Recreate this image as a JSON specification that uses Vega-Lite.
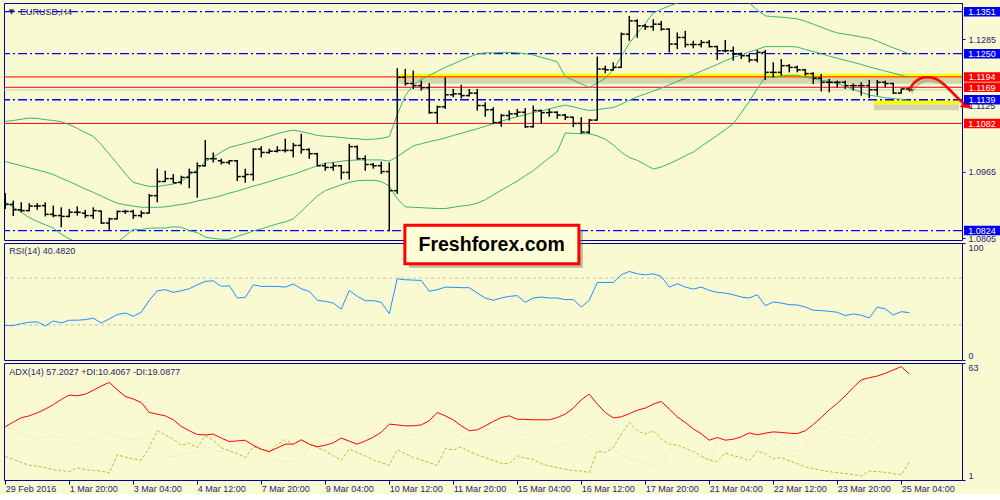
{
"$schema": "https://vega.github.io/schema/vega-lite/v6.json",
"background": "#FAFAD2",
"padding": {"left": 2, "top": 2, "right": 0, "bottom": 0},
"spacing": 3,
"bounds": "flush",
"config": {
  "view": {"stroke": "#0000A0", "strokeWidth": 1, "fill": "#FAFAD2"},
  "font": "Liberation Sans",
  "text": {"font": "Liberation Sans"},
  "axis": {"labelFont": "Liberation Sans", "labelFontSize": 9, "labelColor": "#1E1E78", "tickColor": "#0000A0", "domain": false, "grid": false}
},
"datasets": {
"bars": [
{"i":0,"o":1.0894,"h":1.0914,"l":1.0876,"c":1.0887,"bu":1.1087,"bm":1.0990,"bl":1.0893,"rsi":29.4,"adx":29.2,"pdi":13.4,"mdi":28.8},
{"i":1,"o":1.0887,"h":1.0896,"l":1.0859,"c":1.0874,"bu":1.1089,"bm":1.0985,"bl":1.0880,"rsi":29.4,"adx":31.7,"pdi":12.0,"mdi":27.4},
{"i":2,"o":1.0874,"h":1.0892,"l":1.0868,"c":1.0872,"bu":1.1092,"bm":1.0980,"bl":1.0868,"rsi":31.1,"adx":34.0,"pdi":10.2,"mdi":25.8},
{"i":3,"o":1.0872,"h":1.0890,"l":1.0870,"c":1.0883,"bu":1.1095,"bm":1.0975,"bl":1.0855,"rsi":32.3,"adx":35.0,"pdi":8.8,"mdi":24.0},
{"i":4,"o":1.0883,"h":1.0890,"l":1.0874,"c":1.0883,"bu":1.1094,"bm":1.0970,"bl":1.0846,"rsi":32.6,"adx":36.6,"pdi":8.3,"mdi":22.8},
{"i":5,"o":1.0884,"h":1.0892,"l":1.0858,"c":1.0863,"bu":1.1091,"bm":1.0965,"bl":1.0838,"rsi":29.1,"adx":38.6,"pdi":7.6,"mdi":23.8},
{"i":6,"o":1.0863,"h":1.0884,"l":1.0856,"c":1.0860,"bu":1.1089,"bm":1.0959,"bl":1.0830,"rsi":33.4,"adx":40.9,"pdi":6.5,"mdi":24.7},
{"i":7,"o":1.0860,"h":1.0880,"l":1.0832,"c":1.0858,"bu":1.1086,"bm":1.0950,"bl":1.0815,"rsi":31.7,"adx":43.7,"pdi":6.0,"mdi":23.5},
{"i":8,"o":1.0858,"h":1.0876,"l":1.0856,"c":1.0868,"bu":1.1079,"bm":1.0942,"bl":1.0804,"rsi":34.0,"adx":46.0,"pdi":5.4,"mdi":21.7},
{"i":9,"o":1.0868,"h":1.0882,"l":1.0860,"c":1.0868,"bu":1.1070,"bm":1.0933,"bl":1.0796,"rsi":34.0,"adx":45.6,"pdi":7.4,"mdi":19.4},
{"i":10,"o":1.0866,"h":1.0874,"l":1.0854,"c":1.0860,"bu":1.1060,"bm":1.0924,"bl":1.0789,"rsi":34.5,"adx":46.5,"pdi":6.5,"mdi":22.1},
{"i":11,"o":1.0860,"h":1.0880,"l":1.0852,"c":1.0872,"bu":1.1051,"bm":1.0916,"bl":1.0781,"rsi":35.7,"adx":48.5,"pdi":6.0,"mdi":23.0},
{"i":12,"o":1.0871,"h":1.0872,"l":1.0840,"c":1.0842,"bu":1.1031,"bm":1.0907,"bl":1.0783,"rsi":31.7,"adx":50.8,"pdi":5.8,"mdi":23.5},
{"i":13,"o":1.0842,"h":1.0855,"l":1.0824,"c":1.0852,"bu":1.1008,"bm":1.0898,"bl":1.0789,"rsi":35.1,"adx":52.7,"pdi":4.7,"mdi":26.2},
{"i":14,"o":1.0852,"h":1.0872,"l":1.0851,"c":1.0870,"bu":1.0985,"bm":1.0890,"bl":1.0795,"rsi":38.8,"adx":48.8,"pdi":14.3,"mdi":23.8},
{"i":15,"o":1.0870,"h":1.0874,"l":1.0864,"c":1.0870,"bu":1.0961,"bm":1.0886,"bl":1.0811,"rsi":40.2,"adx":45.3,"pdi":13.2,"mdi":22.3},
{"i":16,"o":1.0870,"h":1.0874,"l":1.0852,"c":1.0860,"bu":1.0940,"bm":1.0883,"bl":1.0827,"rsi":37.4,"adx":43.9,"pdi":12.2,"mdi":22.8},
{"i":17,"o":1.0860,"h":1.0872,"l":1.0855,"c":1.0866,"bu":1.0935,"bm":1.0880,"bl":1.0826,"rsi":40.8,"adx":42.1,"pdi":11.5,"mdi":23.2},
{"i":18,"o":1.0866,"h":1.0912,"l":1.0865,"c":1.0908,"bu":1.0930,"bm":1.0880,"bl":1.0830,"rsi":51.0,"adx":36.8,"pdi":18.2,"mdi":18.2},
{"i":19,"o":1.0908,"h":1.0973,"l":1.0892,"c":1.0942,"bu":1.0930,"bm":1.0880,"bl":1.0830,"rsi":59.2,"adx":35.9,"pdi":27.1,"mdi":15.5},
{"i":20,"o":1.0942,"h":1.0968,"l":1.0941,"c":1.0949,"bu":1.0933,"bm":1.0881,"bl":1.0830,"rsi":60.1,"adx":35.0,"pdi":24.9,"mdi":13.4},
{"i":21,"o":1.0949,"h":1.0960,"l":1.0938,"c":1.0939,"bu":1.0936,"bm":1.0884,"bl":1.0833,"rsi":57.8,"adx":32.9,"pdi":22.6,"mdi":13.6},
{"i":22,"o":1.0940,"h":1.0956,"l":1.0935,"c":1.0952,"bu":1.0942,"bm":1.0887,"bl":1.0832,"rsi":59.2,"adx":29.4,"pdi":19.4,"mdi":14.3},
{"i":23,"o":1.0952,"h":1.0973,"l":1.0926,"c":1.0964,"bu":1.0957,"bm":1.0890,"bl":1.0824,"rsi":60.9,"adx":27.1,"pdi":20.5,"mdi":15.4},
{"i":24,"o":1.0964,"h":1.0988,"l":1.0903,"c":1.0980,"bu":1.0971,"bm":1.0895,"bl":1.0819,"rsi":64.3,"adx":25.1,"pdi":18.2,"mdi":16.1},
{"i":25,"o":1.0980,"h":1.1042,"l":1.0978,"c":1.0997,"bu":1.0990,"bm":1.0899,"bl":1.0808,"rsi":67.2,"adx":24.9,"pdi":24.4,"mdi":19.1},
{"i":26,"o":1.0997,"h":1.1012,"l":1.0988,"c":1.0997,"bu":1.1001,"bm":1.0903,"bl":1.0805,"rsi":67.7,"adx":25.3,"pdi":22.1,"mdi":16.8},
{"i":27,"o":1.0992,"h":1.0997,"l":1.0983,"c":1.0988,"bu":1.1013,"bm":1.0908,"bl":1.0803,"rsi":62.9,"adx":23.2,"pdi":18.2,"mdi":16.1},
{"i":28,"o":1.0988,"h":1.0994,"l":1.0983,"c":1.0992,"bu":1.1024,"bm":1.0914,"bl":1.0803,"rsi":63.5,"adx":21.4,"pdi":16.4,"mdi":17.3},
{"i":29,"o":1.0992,"h":1.0994,"l":1.0943,"c":1.0954,"bu":1.1029,"bm":1.0919,"bl":1.0810,"rsi":53.0,"adx":21.7,"pdi":15.0,"mdi":20.3},
{"i":30,"o":1.0954,"h":1.0973,"l":1.0939,"c":1.0959,"bu":1.1034,"bm":1.0925,"bl":1.0816,"rsi":53.5,"adx":22.1,"pdi":12.9,"mdi":21.4},
{"i":31,"o":1.0959,"h":1.1022,"l":1.0944,"c":1.1020,"bu":1.1039,"bm":1.0931,"bl":1.0823,"rsi":64.3,"adx":19.4,"pdi":18.6,"mdi":20.0},
{"i":32,"o":1.1020,"h":1.1027,"l":1.1000,"c":1.1012,"bu":1.1045,"bm":1.0936,"bl":1.0828,"rsi":62.9,"adx":17.3,"pdi":17.3,"mdi":16.4},
{"i":33,"o":1.1012,"h":1.1021,"l":1.1009,"c":1.1015,"bu":1.1051,"bm":1.0942,"bl":1.0834,"rsi":62.9,"adx":16.1,"pdi":15.6,"mdi":13.6},
{"i":34,"o":1.1015,"h":1.1027,"l":1.1012,"c":1.1017,"bu":1.1057,"bm":1.0948,"bl":1.0840,"rsi":62.9,"adx":18.0,"pdi":20.0,"mdi":11.5},
{"i":35,"o":1.1017,"h":1.1045,"l":1.1012,"c":1.1017,"bu":1.1062,"bm":1.0954,"bl":1.0845,"rsi":62.3,"adx":20.0,"pdi":22.3,"mdi":10.2},
{"i":36,"o":1.1017,"h":1.1035,"l":1.1000,"c":1.1029,"bu":1.1066,"bm":1.0959,"bl":1.0852,"rsi":64.9,"adx":20.0,"pdi":20.0,"mdi":11.1},
{"i":37,"o":1.1029,"h":1.1057,"l":1.1009,"c":1.1019,"bu":1.1062,"bm":1.0966,"bl":1.0870,"rsi":60.9,"adx":22.3,"pdi":22.3,"mdi":11.1},
{"i":38,"o":1.1019,"h":1.1022,"l":1.0997,"c":1.1009,"bu":1.1058,"bm":1.0973,"bl":1.0889,"rsi":58.7,"adx":20.0,"pdi":20.0,"mdi":18.2},
{"i":39,"o":1.1009,"h":1.1011,"l":1.0979,"c":1.0980,"bu":1.1053,"bm":1.0980,"bl":1.0907,"rsi":51.0,"adx":18.6,"pdi":18.2,"mdi":23.2},
{"i":40,"o":1.0980,"h":1.0987,"l":1.0968,"c":1.0976,"bu":1.1051,"bm":1.0986,"bl":1.0920,"rsi":50.1,"adx":19.4,"pdi":16.4,"mdi":26.2},
{"i":41,"o":1.0976,"h":1.0988,"l":1.0968,"c":1.0980,"bu":1.1050,"bm":1.0988,"bl":1.0927,"rsi":48.7,"adx":20.7,"pdi":13.8,"mdi":24.4},
{"i":42,"o":1.0980,"h":1.0982,"l":1.0947,"c":1.0964,"bu":1.1048,"bm":1.0991,"bl":1.0934,"rsi":43.6,"adx":23.2,"pdi":11.5,"mdi":25.6},
{"i":43,"o":1.0964,"h":1.1033,"l":1.0947,"c":1.1026,"bu":1.1046,"bm":1.0993,"bl":1.0940,"rsi":59.5,"adx":21.6,"pdi":17.3,"mdi":20.0},
{"i":44,"o":1.1026,"h":1.1029,"l":1.0995,"c":1.0997,"bu":1.1045,"bm":1.0994,"bl":1.0944,"rsi":54.4,"adx":20.0,"pdi":15.5,"mdi":20.3},
{"i":45,"o":1.0997,"h":1.1005,"l":1.0968,"c":1.0983,"bu":1.1043,"bm":1.0994,"bl":1.0945,"rsi":50.7,"adx":21.7,"pdi":13.8,"mdi":24.9},
{"i":46,"o":1.0983,"h":1.0987,"l":1.0973,"c":1.0980,"bu":1.1044,"bm":1.0994,"bl":1.0945,"rsi":50.7,"adx":23.7,"pdi":11.6,"mdi":24.7},
{"i":47,"o":1.0980,"h":1.0990,"l":1.0960,"c":1.0966,"bu":1.1046,"bm":1.0994,"bl":1.0942,"rsi":49.3,"adx":26.3,"pdi":10.2,"mdi":23.5},
{"i":48,"o":1.0966,"h":1.0988,"l":1.0822,"c":1.0920,"bu":1.1050,"bm":1.0991,"bl":1.0931,"rsi":39.6,"adx":30.6,"pdi":8.8,"mdi":31.0},
{"i":49,"o":1.0920,"h":1.1215,"l":1.0912,"c":1.1193,"bu":1.1103,"bm":1.1002,"bl":1.0901,"rsi":69.4,"adx":30.2,"pdi":17.0,"mdi":33.8},
{"i":50,"o":1.1193,"h":1.1213,"l":1.1173,"c":1.1178,"bu":1.1149,"bm":1.1015,"bl":1.0881,"rsi":68.6,"adx":29.7,"pdi":15.0,"mdi":26.2},
{"i":51,"o":1.1178,"h":1.1209,"l":1.1165,"c":1.1173,"bu":1.1175,"bm":1.1028,"bl":1.0880,"rsi":68.3,"adx":29.7,"pdi":12.9,"mdi":24.7},
{"i":52,"o":1.1173,"h":1.1185,"l":1.1161,"c":1.1168,"bu":1.1188,"bm":1.1033,"bl":1.0879,"rsi":68.0,"adx":30.2,"pdi":11.6,"mdi":24.9},
{"i":53,"o":1.1168,"h":1.1179,"l":1.1105,"c":1.1108,"bu":1.1198,"bm":1.1038,"bl":1.0878,"rsi":58.7,"adx":32.4,"pdi":10.2,"mdi":29.7},
{"i":54,"o":1.1108,"h":1.1125,"l":1.1081,"c":1.1122,"bu":1.1207,"bm":1.1042,"bl":1.0877,"rsi":60.1,"adx":36.8,"pdi":8.8,"mdi":34.1},
{"i":55,"o":1.1122,"h":1.1193,"l":1.1117,"c":1.1151,"bu":1.1217,"bm":1.1047,"bl":1.0877,"rsi":62.3,"adx":35.0,"pdi":17.8,"mdi":28.5},
{"i":56,"o":1.1151,"h":1.1165,"l":1.1145,"c":1.1153,"bu":1.1225,"bm":1.1053,"bl":1.0880,"rsi":62.1,"adx":32.9,"pdi":16.8,"mdi":26.2},
{"i":57,"o":1.1153,"h":1.1175,"l":1.1142,"c":1.1149,"bu":1.1234,"bm":1.1058,"bl":1.0883,"rsi":61.8,"adx":29.7,"pdi":18.6,"mdi":22.6},
{"i":58,"o":1.1149,"h":1.1165,"l":1.1147,"c":1.1155,"bu":1.1242,"bm":1.1064,"bl":1.0885,"rsi":61.8,"adx":27.1,"pdi":16.1,"mdi":23.2},
{"i":59,"o":1.1155,"h":1.1165,"l":1.1113,"c":1.1125,"bu":1.1249,"bm":1.1069,"bl":1.0890,"rsi":57.2,"adx":27.6,"pdi":14.3,"mdi":25.3},
{"i":60,"o":1.1125,"h":1.1133,"l":1.1098,"c":1.1115,"bu":1.1252,"bm":1.1075,"bl":1.0898,"rsi":53.0,"adx":29.7,"pdi":12.9,"mdi":27.4},
{"i":61,"o":1.1115,"h":1.1121,"l":1.1081,"c":1.1084,"bu":1.1252,"bm":1.1081,"bl":1.0910,"rsi":51.0,"adx":32.0,"pdi":11.5,"mdi":28.6},
{"i":62,"o":1.1084,"h":1.1105,"l":1.1074,"c":1.1101,"bu":1.1253,"bm":1.1087,"bl":1.0921,"rsi":53.0,"adx":34.1,"pdi":9.7,"mdi":28.8},
{"i":63,"o":1.1101,"h":1.1113,"l":1.1089,"c":1.1105,"bu":1.1253,"bm":1.1093,"bl":1.0932,"rsi":54.4,"adx":35.0,"pdi":9.7,"mdi":27.4},
{"i":64,"o":1.1105,"h":1.1117,"l":1.1098,"c":1.1109,"bu":1.1252,"bm":1.1098,"bl":1.0943,"rsi":55.0,"adx":33.2,"pdi":13.8,"mdi":23.8},
{"i":65,"o":1.1109,"h":1.1119,"l":1.1071,"c":1.1074,"bu":1.1250,"bm":1.1103,"bl":1.0956,"rsi":49.3,"adx":33.1,"pdi":12.6,"mdi":25.6},
{"i":66,"o":1.1074,"h":1.1125,"l":1.1072,"c":1.1113,"bu":1.1247,"bm":1.1108,"bl":1.0968,"rsi":53.0,"adx":32.9,"pdi":12.0,"mdi":23.5},
{"i":67,"o":1.1113,"h":1.1115,"l":1.1081,"c":1.1108,"bu":1.1241,"bm":1.1112,"bl":1.0984,"rsi":53.8,"adx":32.9,"pdi":9.5,"mdi":20.1},
{"i":68,"o":1.1108,"h":1.1117,"l":1.1098,"c":1.1109,"bu":1.1236,"bm":1.1117,"bl":1.0999,"rsi":53.0,"adx":32.9,"pdi":8.5,"mdi":17.6},
{"i":69,"o":1.1109,"h":1.1111,"l":1.1093,"c":1.1102,"bu":1.1230,"bm":1.1122,"bl":1.1014,"rsi":53.0,"adx":34.1,"pdi":7.6,"mdi":18.8},
{"i":70,"o":1.1102,"h":1.1105,"l":1.1090,"c":1.1097,"bu":1.1194,"bm":1.1126,"bl":1.1059,"rsi":51.6,"adx":35.9,"pdi":6.7,"mdi":20.0},
{"i":71,"o":1.1097,"h":1.1098,"l":1.1073,"c":1.1082,"bu":1.1186,"bm":1.1122,"bl":1.1058,"rsi":51.6,"adx":39.1,"pdi":6.0,"mdi":23.6},
{"i":72,"o":1.1082,"h":1.1097,"l":1.1057,"c":1.1061,"bu":1.1177,"bm":1.1117,"bl":1.1057,"rsi":45.3,"adx":43.5,"pdi":5.8,"mdi":26.8},
{"i":73,"o":1.1061,"h":1.1093,"l":1.1057,"c":1.1090,"bu":1.1169,"bm":1.1113,"bl":1.1057,"rsi":51.0,"adx":46.5,"pdi":4.9,"mdi":25.3},
{"i":74,"o":1.1090,"h":1.1243,"l":1.1089,"c":1.1213,"bu":1.1179,"bm":1.1115,"bl":1.1052,"rsi":66.3,"adx":41.2,"pdi":16.4,"mdi":21.7},
{"i":75,"o":1.1213,"h":1.1221,"l":1.1203,"c":1.1211,"bu":1.1191,"bm":1.1118,"bl":1.1044,"rsi":66.3,"adx":36.8,"pdi":15.5,"mdi":20.3},
{"i":76,"o":1.1211,"h":1.1229,"l":1.1209,"c":1.1217,"bu":1.1211,"bm":1.1120,"bl":1.1030,"rsi":66.3,"adx":33.9,"pdi":18.2,"mdi":16.8},
{"i":77,"o":1.1217,"h":1.1301,"l":1.1216,"c":1.1297,"bu":1.1243,"bm":1.1128,"bl":1.1013,"rsi":72.8,"adx":34.5,"pdi":25.3,"mdi":14.3},
{"i":78,"o":1.1297,"h":1.1341,"l":1.1281,"c":1.1329,"bu":1.1275,"bm":1.1138,"bl":1.1000,"rsi":75.7,"adx":36.1,"pdi":31.5,"mdi":12.2},
{"i":79,"o":1.1329,"h":1.1333,"l":1.1288,"c":1.1317,"bu":1.1299,"bm":1.1146,"bl":1.0993,"rsi":73.7,"adx":38.0,"pdi":27.1,"mdi":11.1},
{"i":80,"o":1.1317,"h":1.1321,"l":1.1307,"c":1.1315,"bu":1.1323,"bm":1.1153,"bl":1.0983,"rsi":72.8,"adx":39.1,"pdi":25.3,"mdi":9.9},
{"i":81,"o":1.1315,"h":1.1333,"l":1.1305,"c":1.1321,"bu":1.1348,"bm":1.1160,"bl":1.0972,"rsi":73.7,"adx":41.2,"pdi":27.1,"mdi":8.6},
{"i":82,"o":1.1321,"h":1.1329,"l":1.1305,"c":1.1309,"bu":1.1357,"bm":1.1167,"bl":1.0977,"rsi":71.4,"adx":42.6,"pdi":22.6,"mdi":7.2},
{"i":83,"o":1.1309,"h":1.1311,"l":1.1253,"c":1.1273,"bu":1.1365,"bm":1.1175,"bl":1.0985,"rsi":62.3,"adx":38.6,"pdi":20.0,"mdi":18.0},
{"i":84,"o":1.1273,"h":1.1301,"l":1.1261,"c":1.1289,"bu":1.1372,"bm":1.1183,"bl":1.0994,"rsi":65.2,"adx":34.5,"pdi":19.6,"mdi":16.6},
{"i":85,"o":1.1289,"h":1.1305,"l":1.1265,"c":1.1272,"bu":1.1379,"bm":1.1191,"bl":1.1004,"rsi":62.3,"adx":31.5,"pdi":17.8,"mdi":14.7},
{"i":86,"o":1.1272,"h":1.1281,"l":1.1263,"c":1.1272,"bu":1.1385,"bm":1.1199,"bl":1.1013,"rsi":60.6,"adx":28.1,"pdi":16.1,"mdi":13.2},
{"i":87,"o":1.1272,"h":1.1283,"l":1.1265,"c":1.1277,"bu":1.1389,"bm":1.1208,"bl":1.1027,"rsi":62.3,"adx":25.5,"pdi":13.8,"mdi":12.9},
{"i":88,"o":1.1277,"h":1.1283,"l":1.1265,"c":1.1267,"bu":1.1392,"bm":1.1216,"bl":1.1040,"rsi":59.5,"adx":22.1,"pdi":11.6,"mdi":11.3},
{"i":89,"o":1.1267,"h":1.1269,"l":1.1235,"c":1.1257,"bu":1.1395,"bm":1.1224,"bl":1.1053,"rsi":57.8,"adx":23.5,"pdi":10.8,"mdi":20.9},
{"i":90,"o":1.1257,"h":1.1283,"l":1.1253,"c":1.1257,"bu":1.1399,"bm":1.1233,"bl":1.1067,"rsi":57.2,"adx":22.1,"pdi":15.5,"mdi":19.1},
{"i":91,"o":1.1257,"h":1.1267,"l":1.1233,"c":1.1249,"bu":1.1400,"bm":1.1241,"bl":1.1081,"rsi":55.8,"adx":22.6,"pdi":13.8,"mdi":23.3},
{"i":92,"o":1.1249,"h":1.1253,"l":1.1237,"c":1.1245,"bu":1.1387,"bm":1.1247,"bl":1.1108,"rsi":53.8,"adx":23.9,"pdi":12.9,"mdi":23.8},
{"i":93,"o":1.1245,"h":1.1249,"l":1.1229,"c":1.1235,"bu":1.1372,"bm":1.1254,"bl":1.1135,"rsi":53.0,"adx":26.0,"pdi":11.1,"mdi":25.1},
{"i":94,"o":1.1235,"h":1.1259,"l":1.1229,"c":1.1253,"bu":1.1355,"bm":1.1260,"bl":1.1166,"rsi":55.8,"adx":24.9,"pdi":16.4,"mdi":22.8},
{"i":95,"o":1.1253,"h":1.1259,"l":1.1187,"c":1.1205,"bu":1.1341,"bm":1.1267,"bl":1.1193,"rsi":46.5,"adx":25.8,"pdi":15.0,"mdi":25.3},
{"i":96,"o":1.1205,"h":1.1229,"l":1.1193,"c":1.1205,"bu":1.1339,"bm":1.1267,"bl":1.1194,"rsi":49.6,"adx":26.5,"pdi":12.2,"mdi":23.5},
{"i":97,"o":1.1205,"h":1.1237,"l":1.1197,"c":1.1221,"bu":1.1338,"bm":1.1267,"bl":1.1196,"rsi":48.7,"adx":26.2,"pdi":12.9,"mdi":20.9},
{"i":98,"o":1.1221,"h":1.1225,"l":1.1205,"c":1.1217,"bu":1.1336,"bm":1.1267,"bl":1.1198,"rsi":47.3,"adx":25.8,"pdi":11.1,"mdi":18.2},
{"i":99,"o":1.1217,"h":1.1221,"l":1.1205,"c":1.1211,"bu":1.1334,"bm":1.1266,"bl":1.1198,"rsi":47.0,"adx":25.6,"pdi":9.7,"mdi":16.1},
{"i":100,"o":1.1211,"h":1.1213,"l":1.1197,"c":1.1202,"bu":1.1328,"bm":1.1260,"bl":1.1193,"rsi":45.3,"adx":27.1,"pdi":7.9,"mdi":18.6},
{"i":101,"o":1.1202,"h":1.1205,"l":1.1177,"c":1.1191,"bu":1.1321,"bm":1.1255,"bl":1.1190,"rsi":42.5,"adx":30.4,"pdi":7.0,"mdi":27.1},
{"i":102,"o":1.1191,"h":1.1201,"l":1.1159,"c":1.1181,"bu":1.1314,"bm":1.1250,"bl":1.1186,"rsi":42.2,"adx":34.1,"pdi":6.2,"mdi":29.5},
{"i":103,"o":1.1181,"h":1.1189,"l":1.1157,"c":1.1181,"bu":1.1306,"bm":1.1244,"bl":1.1183,"rsi":41.6,"adx":38.2,"pdi":5.4,"mdi":27.4},
{"i":104,"o":1.1181,"h":1.1185,"l":1.1169,"c":1.1181,"bu":1.1300,"bm":1.1239,"bl":1.1178,"rsi":40.8,"adx":41.6,"pdi":4.9,"mdi":24.4},
{"i":105,"o":1.1181,"h":1.1185,"l":1.1165,"c":1.1173,"bu":1.1297,"bm":1.1234,"bl":1.1171,"rsi":37.9,"adx":45.6,"pdi":4.4,"mdi":25.3},
{"i":106,"o":1.1173,"h":1.1178,"l":1.1161,"c":1.1173,"bu":1.1294,"bm":1.1229,"bl":1.1164,"rsi":39.4,"adx":50.1,"pdi":3.9,"mdi":23.8},
{"i":107,"o":1.1173,"h":1.1181,"l":1.1149,"c":1.1173,"bu":1.1290,"bm":1.1224,"bl":1.1157,"rsi":38.2,"adx":54.0,"pdi":3.1,"mdi":27.1},
{"i":108,"o":1.1173,"h":1.1187,"l":1.1143,"c":1.1163,"bu":1.1287,"bm":1.1218,"bl":1.1150,"rsi":36.0,"adx":55.2,"pdi":5.8,"mdi":24.9},
{"i":109,"o":1.1163,"h":1.1187,"l":1.1149,"c":1.1181,"bu":1.1280,"bm":1.1213,"bl":1.1147,"rsi":45.3,"adx":56.1,"pdi":5.4,"mdi":18.2},
{"i":110,"o":1.1181,"h":1.1185,"l":1.1169,"c":1.1178,"bu":1.1272,"bm":1.1208,"bl":1.1144,"rsi":43.6,"adx":57.5,"pdi":5.1,"mdi":20.3},
{"i":111,"o":1.1178,"h":1.1180,"l":1.1153,"c":1.1155,"bu":1.1264,"bm":1.1203,"bl":1.1142,"rsi":38.5,"adx":59.3,"pdi":4.4,"mdi":23.8},
{"i":112,"o":1.1155,"h":1.1166,"l":1.1154,"c":1.1165,"bu":1.1257,"bm":1.1198,"bl":1.1140,"rsi":41.3,"adx":61.1,"pdi":3.7,"mdi":21.7},
{"i":113,"o":1.1165,"h":1.1169,"l":1.1159,"c":1.1163,"bu":1.1249,"bm":1.1193,"bl":1.1137,"rsi":40.482,"adx":57.2027,"pdi":10.4067,"mdi":19.0877}
],
"levels": [
{"p":1.1351,"kind":"blue"},{"p":1.1250,"kind":"blue"},{"p":1.1139,"kind":"blue"},{"p":1.0824,"kind":"blue"},
{"p":1.1194,"kind":"red"},{"p":1.1169,"kind":"red"},{"p":1.1082,"kind":"red"}
],
"hl": [{"a":49,"b":119.59,"p":1.1197},{"a":108.55,"b":119.2,"p":1.1133}],
"arrow": [
{"i":113.0,"p":1.11626},{"i":113.55,"p":1.11809},{"i":114.4,"p":1.11915},{"i":115.2,"p":1.11939},{"i":116.25,"p":1.11915},
{"i":117.1,"p":1.11809},{"i":118.1,"p":1.11626},{"i":118.95,"p":1.11448},{"i":119.85,"p":1.11296}
]
},
"vconcat": [
{
"width": 958, "height": 237,
"layer": [
 {"data": {"name": "hl"}, "mark": {"type": "rule", "color": "#8C8C6E", "opacity": 0.35, "strokeWidth": 6, "yOffset": 5},
  "encoding": {
   "x": {"field": "a", "type": "quantitative", "scale": {"domain": [-0.16, 119.59], "nice": false, "zero": false}, "axis": null},
   "x2": {"field": "b"},
   "y": {"field": "p", "type": "quantitative", "scale": {"domain": [1.08012, 1.1372], "nice": false, "zero": false},
         "axis": {"orient": "right", "title": null, "values": [1.0805, 1.0885, 1.0965, 1.1045, 1.1125, 1.1205, 1.1285, 1.1365], "format": ".4f", "tickSize": 3, "labelPadding": 3, "labelOverlap": false, "labelBound": false, "labelFlush": false}}}},
 {"data": {"name": "hl"}, "mark": {"type": "rule", "color": "#FFFF00", "strokeWidth": 4},
  "encoding": {
   "x": {"field": "a", "type": "quantitative", "scale": {"domain": [-0.16, 119.59], "nice": false, "zero": false}, "axis": null},
   "x2": {"field": "b"},
   "y": {"field": "p", "type": "quantitative", "scale": {"domain": [1.08012, 1.1372], "nice": false, "zero": false}}}},
 {"data": {"values": [{"bid": 1.11626}]}, "mark": {"type": "rule", "color": "#C8C8C8", "strokeWidth": 1},
  "encoding": {"y": {"field": "bid", "type": "quantitative", "scale": {"domain": [1.08012, 1.1372], "nice": false, "zero": false}}}},
 {"data": {"name": "levels"}, "transform": [{"filter": "datum.kind == 'blue'"}],
  "mark": {"type": "rule", "color": "#0000FF", "strokeWidth": 1.3, "strokeDash": [9, 3, 2, 3]},
  "encoding": {"y": {"field": "p", "type": "quantitative", "scale": {"domain": [1.08012, 1.1372], "nice": false, "zero": false}}}},
 {"data": {"name": "levels"}, "transform": [{"filter": "datum.kind == 'red'"}],
  "mark": {"type": "rule", "color": "#FF0000", "strokeWidth": 1},
  "encoding": {"y": {"field": "p", "type": "quantitative", "scale": {"domain": [1.08012, 1.1372], "nice": false, "zero": false}}}},
 {"data": {"name": "bars"}, "mark": {"type": "line", "color": "#3CB371", "strokeWidth": 1, "clip": true},
  "encoding": {
   "x": {"field": "i", "type": "quantitative", "scale": {"domain": [-0.16, 119.59], "nice": false, "zero": false}, "axis": null},
   "y": {"field": "bu", "type": "quantitative", "scale": {"domain": [1.08012, 1.1372], "nice": false, "zero": false}}}},
 {"data": {"name": "bars"}, "mark": {"type": "line", "color": "#3CB371", "strokeWidth": 1, "clip": true},
  "encoding": {
   "x": {"field": "i", "type": "quantitative", "scale": {"domain": [-0.16, 119.59], "nice": false, "zero": false}, "axis": null},
   "y": {"field": "bm", "type": "quantitative", "scale": {"domain": [1.08012, 1.1372], "nice": false, "zero": false}}}},
 {"data": {"name": "bars"}, "mark": {"type": "line", "color": "#3CB371", "strokeWidth": 1, "clip": true},
  "encoding": {
   "x": {"field": "i", "type": "quantitative", "scale": {"domain": [-0.16, 119.59], "nice": false, "zero": false}, "axis": null},
   "y": {"field": "bl", "type": "quantitative", "scale": {"domain": [1.08012, 1.1372], "nice": false, "zero": false}}}},
 {"data": {"name": "bars"}, "mark": {"type": "rule", "color": "#000000", "strokeWidth": 1.5, "clip": true},
  "encoding": {
   "x": {"field": "i", "type": "quantitative", "scale": {"domain": [-0.16, 119.59], "nice": false, "zero": false}, "axis": null},
   "y": {"field": "l", "type": "quantitative", "scale": {"domain": [1.08012, 1.1372], "nice": false, "zero": false}},
   "y2": {"field": "h"}}},
 {"data": {"name": "bars"}, "mark": {"type": "tick", "orient": "horizontal", "size": 3.5, "thickness": 1.5, "xOffset": -1.75, "color": "#000000", "opacity": 1, "clip": true},
  "encoding": {
   "x": {"field": "i", "type": "quantitative", "scale": {"domain": [-0.16, 119.59], "nice": false, "zero": false}, "axis": null},
   "y": {"field": "o", "type": "quantitative", "scale": {"domain": [1.08012, 1.1372], "nice": false, "zero": false}}}},
 {"data": {"name": "bars"}, "mark": {"type": "tick", "orient": "horizontal", "size": 3.5, "thickness": 1.5, "xOffset": 1.75, "color": "#000000", "opacity": 1, "clip": true},
  "encoding": {
   "x": {"field": "i", "type": "quantitative", "scale": {"domain": [-0.16, 119.59], "nice": false, "zero": false}, "axis": null},
   "y": {"field": "c", "type": "quantitative", "scale": {"domain": [1.08012, 1.1372], "nice": false, "zero": false}}}},
 {"data": {"name": "arrow"}, "mark": {"type": "line", "interpolate": "basis", "color": "#7A7A5A", "opacity": 0.35, "strokeWidth": 3, "xOffset": 2, "yOffset": 3},
  "encoding": {
   "x": {"field": "i", "type": "quantitative", "scale": {"domain": [-0.16, 119.59], "nice": false, "zero": false}, "axis": null},
   "y": {"field": "p", "type": "quantitative", "scale": {"domain": [1.08012, 1.1372], "nice": false, "zero": false}}}},
 {"data": {"name": "arrow"}, "mark": {"type": "line", "interpolate": "basis", "color": "#FF0000", "strokeWidth": 2.5},
  "encoding": {
   "x": {"field": "i", "type": "quantitative", "scale": {"domain": [-0.16, 119.59], "nice": false, "zero": false}, "axis": null},
   "y": {"field": "p", "type": "quantitative", "scale": {"domain": [1.08012, 1.1372], "nice": false, "zero": false}}}},
 {"data": {"values": [{"t": "arrowhead"}]}, "mark": {"type": "point", "shape": "triangle-right", "angle": 38, "size": 130, "filled": true, "color": "#FF0000", "opacity": 1},
  "encoding": {
   "x": {"datum": 120.25, "type": "quantitative", "scale": {"domain": [-0.16, 119.59], "nice": false, "zero": false}, "axis": null},
   "y": {"datum": 1.1125, "type": "quantitative", "scale": {"domain": [1.08012, 1.1372], "nice": false, "zero": false}}}},
 {"data": {"values": [{"t": "▼"}]}, "mark": {"type": "text", "fontSize": 7, "color": "#1E1E78", "align": "center", "baseline": "middle", "font": "DejaVu Sans"},
  "encoding": {
   "x": {"datum": 0.78, "type": "quantitative", "scale": {"domain": [-0.16, 119.59], "nice": false, "zero": false}, "axis": null},
   "y": {"datum": 1.1351, "type": "quantitative", "scale": {"domain": [1.08012, 1.1372], "nice": false, "zero": false}},
   "text": {"field": "t"}}},
 {"data": {"values": [{"t": "EURUSD,H4"}]}, "mark": {"type": "text", "fontSize": 9, "color": "#1E1E78", "align": "left", "baseline": "middle"},
  "encoding": {
   "x": {"datum": 1.84, "type": "quantitative", "scale": {"domain": [-0.16, 119.59], "nice": false, "zero": false}, "axis": null},
   "y": {"datum": 1.1351, "type": "quantitative", "scale": {"domain": [1.08012, 1.1372], "nice": false, "zero": false}},
   "text": {"field": "t"}}},
 {"data": {"name": "levels"}, "mark": {"type": "rect", "width": 37, "height": 9.5, "opacity": 1},
  "encoding": {
   "x": {"datum": 122.15, "type": "quantitative", "scale": {"domain": [-0.16, 119.59], "nice": false, "zero": false}, "axis": null},
   "y": {"field": "p", "type": "quantitative", "scale": {"domain": [1.08012, 1.1372], "nice": false, "zero": false}},
   "color": {"field": "kind", "type": "nominal", "scale": {"domain": ["blue", "red"], "range": ["#0000F0", "#FF0000"]}, "legend": null}}},
 {"data": {"name": "levels"}, "mark": {"type": "text", "fontSize": 9, "color": "#FFFFFF", "align": "center", "baseline": "middle", "dy": 0.5},
  "encoding": {
   "x": {"datum": 122.1, "type": "quantitative", "scale": {"domain": [-0.16, 119.59], "nice": false, "zero": false}, "axis": null},
   "y": {"field": "p", "type": "quantitative", "scale": {"domain": [1.08012, 1.1372], "nice": false, "zero": false}},
   "text": {"field": "p", "type": "quantitative", "format": ".4f"}}}
]
},
{
"width": 958, "height": 117,
"layer": [
 {"data": {"values": [{"v": 30}, {"v": 70}]}, "mark": {"type": "rule", "color": "#C0C0C0", "strokeWidth": 1, "strokeDash": [3, 3]},
  "encoding": {"y": {"field": "v", "type": "quantitative", "scale": {"domain": [0, 100], "nice": false, "zero": false},
   "axis": {"orient": "right", "title": null, "values": [0, 30, 70, 100], "format": "d", "tickSize": 3, "labelPadding": 3, "labelFlush": true, "labelOverlap": false}}}},
 {"data": {"name": "bars"}, "mark": {"type": "line", "color": "#1E90FF", "strokeWidth": 1, "clip": true},
  "encoding": {
   "x": {"field": "i", "type": "quantitative", "scale": {"domain": [-0.16, 119.59], "nice": false, "zero": false}, "axis": null},
   "y": {"field": "rsi", "type": "quantitative", "scale": {"domain": [0, 100], "nice": false, "zero": false}}}},
 {"data": {"values": [{"t": "RSI(14) 40.4820"}]}, "mark": {"type": "text", "fontSize": 9, "color": "#1E1E78", "align": "left", "baseline": "middle"},
  "encoding": {
   "x": {"datum": 0.5, "type": "quantitative", "scale": {"domain": [-0.16, 119.59], "nice": false, "zero": false}, "axis": null},
   "y": {"datum": 92.8, "type": "quantitative", "scale": {"domain": [0, 100], "nice": false, "zero": false}},
   "text": {"field": "t"}}},
 {"data": {"values": [{"t": "Freshforex.com"}]}, "mark": {"type": "rect", "fill": "#6E6E60", "opacity": 0.45, "xOffset": 4, "x2Offset": 4, "yOffset": 4, "y2Offset": 4},
  "encoding": {
   "x": {"datum": 49.95, "type": "quantitative", "scale": {"domain": [-0.16, 119.59], "nice": false, "zero": false}, "axis": null},
   "x2": {"datum": 71.7},
   "y": {"datum": 115.1, "type": "quantitative", "scale": {"domain": [0, 100], "nice": false, "zero": false}},
   "y2": {"datum": 82.3}}},
 {"data": {"values": [{"t": "Freshforex.com"}]}, "mark": {"type": "rect", "fill": "#FFFFD8", "stroke": "#FF0000", "strokeWidth": 3, "opacity": 1},
  "encoding": {
   "x": {"datum": 49.95, "type": "quantitative", "scale": {"domain": [-0.16, 119.59], "nice": false, "zero": false}, "axis": null},
   "x2": {"datum": 71.7},
   "y": {"datum": 115.1, "type": "quantitative", "scale": {"domain": [0, 100], "nice": false, "zero": false}},
   "y2": {"datum": 82.3}}},
 {"data": {"values": [{"t": "Freshforex.com"}]}, "mark": {"type": "text", "fontSize": 19.5, "fontWeight": "bold", "color": "#000000", "align": "center", "baseline": "middle", "font": "Liberation Sans"},
  "encoding": {
   "x": {"datum": 60.8, "type": "quantitative", "scale": {"domain": [-0.16, 119.59], "nice": false, "zero": false}, "axis": null},
   "y": {"datum": 98.7, "type": "quantitative", "scale": {"domain": [0, 100], "nice": false, "zero": false}},
   "text": {"field": "t"}}}
]
},
{
"width": 958, "height": 117,
"layer": [
 {"data": {"name": "bars"}, "mark": {"type": "line", "color": "#F2CFAE", "strokeWidth": 1, "strokeDash": [1, 2], "clip": true},
  "encoding": {
   "x": {"field": "i", "type": "quantitative", "scale": {"domain": [-0.16, 119.59], "nice": false, "zero": false}},
   "y": {"field": "mdi", "type": "quantitative", "scale": {"domain": [1, 63], "nice": false, "zero": false}}}},
 {"data": {"name": "bars"}, "mark": {"type": "line", "color": "#9ACD32", "strokeWidth": 1, "strokeDash": [3, 2], "clip": true},
  "encoding": {
   "x": {"field": "i", "type": "quantitative", "scale": {"domain": [-0.16, 119.59], "nice": false, "zero": false}},
   "y": {"field": "pdi", "type": "quantitative", "scale": {"domain": [1, 63], "nice": false, "zero": false}}}},
 {"data": {"name": "bars"}, "mark": {"type": "line", "color": "#FF0000", "strokeWidth": 1, "clip": true},
  "encoding": {
   "x": {"field": "i", "type": "quantitative", "scale": {"domain": [-0.16, 119.59], "nice": false, "zero": false},
         "axis": {"orient": "bottom", "title": null, "values": [0, 8, 16, 24, 32, 40, 48, 56, 64, 72, 80, 88, 96, 104, 112],
                  "labelExpr": "['29 Feb 2016','1 Mar 20:00','3 Mar 04:00','4 Mar 12:00','7 Mar 20:00','9 Mar 04:00','10 Mar 12:00','11 Mar 20:00','15 Mar 04:00','16 Mar 12:00','17 Mar 20:00','21 Mar 04:00','22 Mar 12:00','23 Mar 20:00','25 Mar 04:00'][round(datum.value / 8)]",
                  "labelAlign": "left", "labelPadding": 0, "tickSize": 4, "labelOverlap": false, "labelFlush": false, "labelBound": false}},
   "y": {"field": "adx", "type": "quantitative", "scale": {"domain": [1, 63], "nice": false, "zero": false},
         "axis": {"orient": "right", "title": null, "values": [1, 63], "format": "d", "tickSize": 3, "labelPadding": 3, "labelFlush": true, "labelOverlap": false}}}},
 {"data": {"values": [{"t": "ADX(14) 57.2027 +DI:10.4067 -DI:19.0877"}]}, "mark": {"type": "text", "fontSize": 9, "color": "#1E1E78", "align": "left", "baseline": "middle"},
  "encoding": {
   "x": {"datum": 0.5, "type": "quantitative", "scale": {"domain": [-0.16, 119.59], "nice": false, "zero": false}},
   "y": {"datum": 58.1, "type": "quantitative", "scale": {"domain": [1, 63], "nice": false, "zero": false}},
   "text": {"field": "t"}}}
]
}
]
}
